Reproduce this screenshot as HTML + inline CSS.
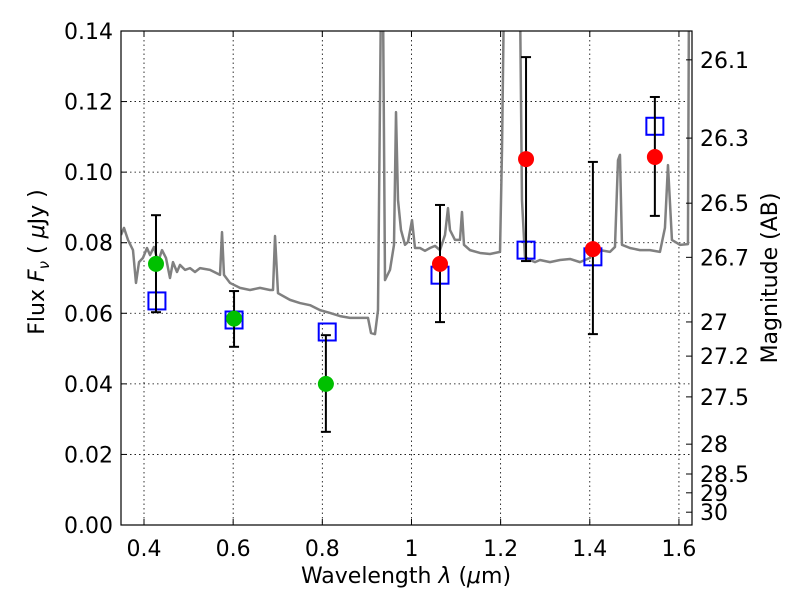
<!DOCTYPE html>
<html><head><meta charset="utf-8"><style>
html,body{margin:0;padding:0;background:#fff;}
svg text{font-family:"DejaVu Sans","Liberation Sans",sans-serif;font-size:22px;fill:#000;}
</style></head><body>
<svg id="chart" width="800" height="600" viewBox="0 0 800 600">
<g id="grid"></g>
<g id="spec"></g>
<g id="marks"></g>
<rect x="121" y="31" width="571" height="494" fill="none" stroke="#000" stroke-width="1.2"/>
<g id="axes"></g>
<text x="406" y="583" text-anchor="middle">Wavelength  <tspan font-style="italic">λ</tspan> (<tspan font-style="italic">μ</tspan>m)</text>
<text transform="translate(44,262) rotate(-90)" text-anchor="middle">Flux  <tspan font-style="italic">F</tspan><tspan font-style="italic" font-size="15" dy="5">ν</tspan><tspan dy="-5">  ( </tspan><tspan font-style="italic">μ</tspan>Jy )</text>
<text transform="translate(777,278) rotate(-90)" text-anchor="middle">Magnitude (AB)</text>
</svg>
<script>
const specX=[0.3484,0.3551,0.3641,0.3753,0.3820,0.3888,0.3977,0.4067,0.4135,0.4224,0.4314,0.4404,0.4493,0.4583,0.4650,0.4740,0.4807,0.4920,0.5032,0.5144,0.5256,0.5480,0.5705,0.5750,0.5794,0.5929,0.6153,0.6378,0.6602,0.6826,0.6894,0.6939,0.7006,0.7275,0.7499,0.7724,0.7948,0.8172,0.8397,0.8621,0.8845,0.9025,0.9092,0.9182,0.9249,0.9294,0.9316,0.9361,0.9406,0.9518,0.9608,0.9653,0.9698,0.9765,0.9855,0.9922,1.0012,1.0079,1.0191,1.0303,1.0416,1.0528,1.0640,1.0752,1.0819,1.0864,1.0976,1.1088,1.1133,1.1178,1.1313,1.1537,1.1761,1.1986,1.2031,1.2075,1.2434,1.2479,1.2546,1.2659,1.2771,1.2883,1.3107,1.3331,1.3556,1.3780,1.4004,1.4072,1.4229,1.4453,1.4565,1.4633,1.4677,1.4722,1.4901,1.5126,1.5350,1.5574,1.5686,1.5754,1.5843,1.6023,1.6202,1.6225];
const specY=[0.0822,0.0842,0.0808,0.0779,0.0686,0.0745,0.0757,0.0785,0.0765,0.0788,0.0745,0.0779,0.0757,0.0700,0.0745,0.0717,0.0737,0.0723,0.0728,0.0717,0.0728,0.0723,0.0709,0.0830,0.0709,0.0686,0.0672,0.0666,0.0672,0.0666,0.0666,0.0819,0.0657,0.0638,0.0629,0.0623,0.0609,0.0601,0.0592,0.0587,0.0587,0.0587,0.0544,0.0541,0.0609,0.1204,0.15,0.15,0.0694,0.0723,0.0794,0.1170,0.0921,0.0836,0.0794,0.0802,0.0864,0.0785,0.0785,0.0777,0.0785,0.0791,0.0779,0.0822,0.0898,0.0836,0.0808,0.0808,0.0887,0.0794,0.0779,0.0771,0.0768,0.0774,0.1063,0.15,0.15,0.0921,0.0760,0.0751,0.0745,0.0751,0.0745,0.0751,0.0754,0.0745,0.0757,0.0779,0.0779,0.0774,0.0788,0.1034,0.1049,0.0794,0.0785,0.0779,0.0779,0.0774,0.0842,0.1020,0.0808,0.0794,0.0796,0.15];
const greenX=[0.4269,0.602,0.808];
const greenY=[0.074,0.0585,0.040];
const greenHi=[0.0878,0.0663,0.0538];
const greenLo=[0.0603,0.0505,0.0264];
const redX=[1.064,1.257,1.407,1.546];
const redY=[0.074,0.1037,0.0782,0.1043];
const redHi=[0.0907,0.1326,0.1029,0.1213];
const redLo=[0.0575,0.0748,0.0541,0.0876];
const sqX=[0.429,0.602,0.811,1.064,1.257,1.407,1.546];
const sqY=[0.0635,0.0581,0.0547,0.0708,0.0779,0.076,0.113];
const xTicks=[0.4,0.6,0.8,1,1.2,1.4,1.6];
const xTickLabels=["0.4","0.6","0.8","1","1.2","1.4","1.6"];
const yTicks=[0,0.02,0.04,0.06,0.08,0.10,0.12,0.14];
const yTickLabels=["0.00","0.02","0.04","0.06","0.08","0.10","0.12","0.14"];
const magTicks=[26.1,26.3,26.5,26.7,27,27.2,27.5,28,28.5,29,30];
const magLabels=["26.1","26.3","26.5","26.7","27","27.2","27.5","28","28.5","29","30"];

const L=121,R=692,T=31,B=525,X0=0.3484,X1=1.6293,Y0=0,Y1=0.14;
const sx=v=>L+(v-X0)/(X1-X0)*(R-L);
const sy=v=>B-(v-Y0)/(Y1-Y0)*(B-T);
const NS="http://www.w3.org/2000/svg";
function mk(tag,attrs,parent){const e=document.createElementNS(NS,tag);for(const k in attrs)e.setAttribute(k,attrs[k]);parent.appendChild(e);return e;}
const grid=document.getElementById('grid'),axes=document.getElementById('axes'),spec=document.getElementById('spec'),marks=document.getElementById('marks');
xTicks.forEach((v,i)=>{const x=sx(v);
 const g=mk('line',{x1:x,x2:x,y1:T,y2:B,stroke:'#000','stroke-width':0.8,'stroke-dasharray':'1.5,3'},grid);
 
 mk('line',{x1:x,x2:x,y1:B,y2:B-6,stroke:'#000'},axes);mk('line',{x1:x,x2:x,y1:T,y2:T+6,stroke:'#000'},axes);
 const t=mk('text',{x:x,y:B+31,'text-anchor':'middle'},axes);t.textContent=xTickLabels[i];
 });
yTicks.forEach((v,i)=>{const y=sy(v);
 if(i>0&&i<yTicks.length-1){const g=mk('line',{x1:L,x2:R,y1:y,y2:y,stroke:'#000','stroke-width':0.8,'stroke-dasharray':'1.5,3'},grid);
 }
 mk('line',{x1:L,x2:L+6,y1:y,y2:y,stroke:'#000'},axes);
 const t=mk('text',{x:L-8,y:y+8,'text-anchor':'end'},axes);t.textContent=yTickLabels[i];
 });
magTicks.forEach((m,i)=>{const y=sy(Math.pow(10,(23.9-m)/2.5));
 mk('line',{x1:R,x2:R-6,y1:y,y2:y,stroke:'#000'},axes);
 const t=mk('text',{x:R+8,y:y+8,'text-anchor':'start'},axes);t.textContent=magLabels[i];
 });
mk('clipPath',{id:'clip'},spec);mk('rect',{x:L,y:T,width:R-L,height:B-T},spec.lastChild);
const pl=mk('polyline',{points:specX.map((x,i)=>sx(x)+','+sy(specY[i])).join(' '),fill:'none',stroke:'#808080','stroke-width':2.5,'stroke-linejoin':'round','clip-path':'url(#clip)'},spec);

function err(x,hi,lo){const X=sx(x);const g=mk('g',{stroke:'#000','stroke-width':2},marks);
 
 mk('line',{x1:X,x2:X,y1:sy(hi),y2:sy(lo)},g);mk('line',{x1:X-5,x2:X+5,y1:sy(hi),y2:sy(hi)},g);mk('line',{x1:X-5,x2:X+5,y1:sy(lo),y2:sy(lo)},g);}
sqX.forEach((x,i)=>{const r=mk('rect',{x:sx(x)-8.5,y:sy(sqY[i])-8.5,width:17,height:17,fill:'none',stroke:'#0000ff','stroke-width':2},marks);
 });
greenX.forEach((x,i)=>{err(x,greenHi[i],greenLo[i]);const c=mk('circle',{cx:sx(x),cy:sy(greenY[i]),r:8,fill:'#00c000'},marks);
 });
redX.forEach((x,i)=>{err(x,redHi[i],redLo[i]);const c=mk('circle',{cx:sx(x),cy:sy(redY[i]),r:8,fill:'#ff0000'},marks);
 });
</script>
</body></html>
